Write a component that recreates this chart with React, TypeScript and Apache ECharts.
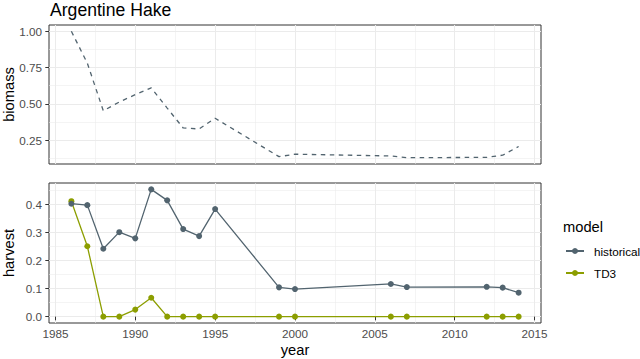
import React, { useEffect, useRef } from 'react';
import * as echarts from 'echarts';

const years = [1986, 1987, 1988, 1989, 1990, 1991, 1992, 1993, 1994, 1995, 1999, 2000, 2006, 2007, 2012, 2013, 2014];
const biomass = [1.0, 0.78, 0.452, 0.512, 0.563, 0.61, 0.47, 0.333, 0.326, 0.4, 0.135, 0.152, 0.14, 0.128, 0.13, 0.145, 0.205];
const harvestHistorical = [0.401, 0.396, 0.241, 0.3, 0.278, 0.452, 0.413, 0.311, 0.286, 0.382, 0.104, 0.098, 0.116, 0.105, 0.106, 0.103, 0.085];
const harvestTD3 = [0.41, 0.25, 0, 0, 0.025, 0.067, 0, 0, 0, 0, 0, 0, 0, 0, 0, 0, 0];

const xTicks = [1985, 1990, 1995, 2000, 2005, 2010, 2015];
const xMinor = [1987.5, 1992.5, 1997.5, 2002.5, 2007.5, 2012.5];
const biomassTicks = [0.25, 0.5, 0.75, 1.0];
const biomassMinor = [0.125, 0.375, 0.625, 0.875];
const harvestTicks = [0, 0.1, 0.2, 0.3, 0.4];
const harvestMinor = [0.05, 0.15, 0.25, 0.35, 0.45];

const FONT = 'Liberation Sans, Arial, Helvetica, sans-serif';
const COL_HIST = '#52646f';
const COL_TD3 = '#8c9e00';
const GRID_COL = '#ebebeb';

function expand(arr: number[]): [number, number] {
  const mn = Math.min(...arr);
  const mx = Math.max(...arr);
  const r = mx - mn;
  return [mn - 0.05 * r, mx + 0.05 * r];
}

export default function App() {
  const ref = useRef<HTMLDivElement>(null);
  useEffect(() => {
    if (!ref.current) return;
    const chart = echarts.init(ref.current, undefined, { renderer: 'svg' });
    const [xMin, xMax] = expand(years);
    const [bMin, bMax] = expand(biomass);
    const [hMin, hMax] = expand([...harvestHistorical, ...harvestTD3]);

    const majorX = (grid: number, labels: boolean) => ({
      gridIndex: grid,
      type: 'value',
      min: xMin,
      max: xMax,
      axisLine: { show: false },
      axisTick: { show: labels, customValues: xTicks, length: 3.7, lineStyle: { color: '#333', width: 1 } },
      axisLabel: {
        show: labels,
        customValues: xTicks,
        margin: 4,
        color: '#4d4d4d',
        fontSize: 11.7,
        fontFamily: FONT,
        formatter: (v: number) => String(Math.round(v)),
      },
      splitLine: { show: true, lineStyle: { color: GRID_COL, width: 1.07 } },
      ...(labels
        ? {
            name: 'year',
            nameLocation: 'middle',
            nameGap: 19,
            nameMoveOverlap: false,
            nameTextStyle: { color: '#000', fontSize: 14.7, fontFamily: FONT },
          }
        : {}),
    });
    const minorX = (grid: number) => ({
      gridIndex: grid,
      type: 'value',
      min: xMin,
      max: xMax,
      position: 'bottom',
      axisLine: { show: false },
      axisTick: { show: false, customValues: xMinor },
      axisLabel: { show: false, customValues: xMinor },
      splitLine: { show: true, lineStyle: { color: GRID_COL, width: 0.55 } },
    });
    const majorY = (grid: number, min: number, max: number, ticks: number[], dec: number, name: string) => ({
      gridIndex: grid,
      type: 'value',
      min,
      max,
      name,
      nameLocation: 'middle',
      nameGap: 33,
      nameMoveOverlap: false,
      nameTextStyle: { color: '#000', fontSize: 14.7, fontFamily: FONT },
      axisLine: { show: false },
      axisTick: { show: true, customValues: ticks, length: 3.7, lineStyle: { color: '#333', width: 1 } },
      axisLabel: {
        show: true,
        customValues: ticks,
        margin: 7,
        color: '#4d4d4d',
        fontSize: 11.7,
        fontFamily: FONT,
        formatter: (v: number) => v.toFixed(dec),
      },
      splitLine: { show: true, lineStyle: { color: GRID_COL, width: 1.07 } },
    });
    const minorY = (grid: number, min: number, max: number, ticks: number[]) => ({
      gridIndex: grid,
      type: 'value',
      min,
      max,
      position: 'left',
      axisLine: { show: false },
      axisTick: { show: false, customValues: ticks },
      axisLabel: { show: false, customValues: ticks },
      splitLine: { show: true, lineStyle: { color: GRID_COL, width: 0.55 } },
    });

    const option: any = {
      animation: false,
      backgroundColor: '#ffffff',
      textStyle: { fontFamily: FONT },
      title: {
        text: 'Argentine Hake',
        left: 50,
        top: 1,
        padding: 0,
        textStyle: { fontSize: 17.6, fontWeight: 'normal', color: '#000', fontFamily: FONT },
      },
      grid: [
        { left: 49, right: 99, top: 25, height: 139, show: true, borderColor: '#333', borderWidth: 1, backgroundColor: 'transparent', outerBoundsMode: 'none' },
        { left: 49, right: 99, top: 183, height: 140, show: true, borderColor: '#333', borderWidth: 1, backgroundColor: 'transparent', outerBoundsMode: 'none' },
      ],
      xAxis: [majorX(0, false), minorX(0), majorX(1, true), minorX(1)],
      yAxis: [
        majorY(0, bMin, bMax, biomassTicks, 2, 'biomass'),
        minorY(0, bMin, bMax, biomassMinor),
        majorY(1, hMin, hMax, harvestTicks, 1, 'harvest'),
        minorY(1, hMin, hMax, harvestMinor),
      ],
      legend: {
        data: ['historical', 'TD3'],
        orient: 'vertical',
        left: 565,
        top: 245,
        padding: 0,
        itemWidth: 18,
        itemHeight: 7.5,
        itemGap: 10,
        textStyle: { fontSize: 11.7, color: '#000', fontFamily: FONT, padding: [0, 0, 0, 5] },
      },
      graphic: [
        {
          type: 'text',
          left: 563,
          top: 219,
          style: { text: 'model', fontSize: 14.7, fill: '#000', fontFamily: FONT },
        },
      ],
      series: [
        {
          name: 'biomass',
          type: 'line',
          xAxisIndex: 0,
          yAxisIndex: 0,
          data: years.map((y, i) => [y, biomass[i]]),
          symbol: 'none',
          showSymbol: false,
          lineStyle: { type: [4.5, 4.5], width: 1.3, color: COL_HIST },
          itemStyle: { color: COL_HIST },
        },
        {
          name: 'TD3',
          type: 'line',
          xAxisIndex: 2,
          yAxisIndex: 2,
          data: years.map((y, i) => [y, harvestTD3[i]]),
          symbol: 'circle',
          symbolSize: 6,
          lineStyle: { width: 1.3, color: COL_TD3 },
          itemStyle: { color: COL_TD3 },
        },
        {
          name: 'historical',
          type: 'line',
          xAxisIndex: 2,
          yAxisIndex: 2,
          data: years.map((y, i) => [y, harvestHistorical[i]]),
          symbol: 'circle',
          symbolSize: 6,
          lineStyle: { width: 1.3, color: COL_HIST },
          itemStyle: { color: COL_HIST },
        },
      ],
    };
    chart.setOption(option);
    return () => chart.dispose();
  }, []);
  return <div ref={ref} style={{ position: 'fixed', left: 0, top: 0, width: 640, height: 359 }} />;
}
